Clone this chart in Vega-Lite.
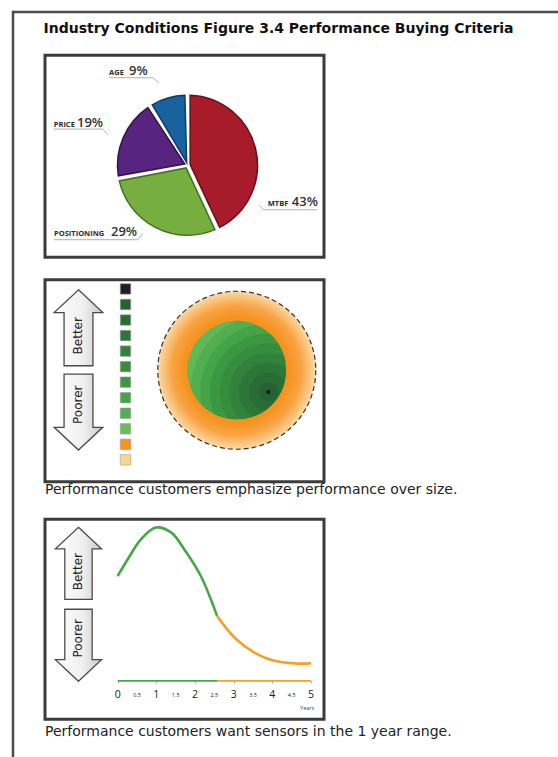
{
  "$schema": "https://vega.github.io/schema/vega-lite/v6.json",
  "background": "#ffffff",
  "padding": {"left": 11, "top": 4, "right": 0, "bottom": 0},
  "config": {"view": {"stroke": null}, "font": "DejaVu Sans"},
  "datasets": {
    "criteria": [
      {"criterion": "MTBF", "pct": 43},
      {"criterion": "Positioning", "pct": 29},
      {"criterion": "Price", "pct": 19},
      {"criterion": "Age", "pct": 9}
    ],
    "labels": [
      {"criterion": "Age", "name": "AGE", "share": "9%", "name_x": -1.121, "share_x": -0.836, "label_y": 1.283},
      {"criterion": "Price", "name": "PRICE", "share": "19%", "name_x": -1.911, "share_x": -1.579, "label_y": 0.553},
      {"criterion": "MTBF", "name": "MTBF", "share": "43%", "name_x": 1.146, "share_x": 1.49, "label_y": -0.586},
      {"criterion": "Positioning", "name": "POSITIONING", "share": "29%", "name_x": -1.907, "share_x": -1.093, "label_y": -1.004}
    ],
    "leaders": [
      {"criterion": "Age", "seq": 1, "lx": -1.121, "ly": 1.25},
      {"criterion": "Age", "seq": 2, "lx": -0.493, "ly": 1.25},
      {"criterion": "Age", "seq": 3, "lx": -0.407, "ly": 1.171},
      {"criterion": "Price", "seq": 1, "lx": -1.911, "ly": 0.517},
      {"criterion": "Price", "seq": 2, "lx": -1.211, "ly": 0.517},
      {"criterion": "Price", "seq": 3, "lx": -1.14, "ly": 0.436},
      {"criterion": "MTBF", "seq": 1, "lx": 1.026, "ly": -0.571},
      {"criterion": "MTBF", "seq": 2, "lx": 1.089, "ly": -0.636},
      {"criterion": "MTBF", "seq": 3, "lx": 1.85, "ly": -0.636},
      {"criterion": "Positioning", "seq": 1, "lx": -1.907, "ly": -1.064},
      {"criterion": "Positioning", "seq": 2, "lx": -0.711, "ly": -1.064},
      {"criterion": "Positioning", "seq": 3, "lx": -0.64, "ly": -0.986}
    ],
    "levels": [
      {"level": 1}, {"level": 2}, {"level": 3}, {"level": 4}, {"level": 5}, {"level": 6},
      {"level": 7}, {"level": 8}, {"level": 9}, {"level": 10}, {"level": 11}, {"level": 12}
    ],
    "cuts": [
      {"cut": "Rough cut", "cx": 0, "cy": 0, "radius": 4},
      {"cut": "Fine cut", "cx": 0, "cy": 0, "radius": 2.5}
    ],
    "ideal": [{"spot": "Ideal", "performance": 1.6, "size": -1.1}],
    "arrows": [
      {"label": "Better", "direction": "up"},
      {"label": "Poorer", "direction": "down"}
    ],
    "curve": [
      {"zone": "Fine cut", "year": 0, "score": 68.4},
      {"zone": "Fine cut", "year": 0.26, "score": 79.3},
      {"zone": "Fine cut", "year": 0.6, "score": 92.3},
      {"zone": "Fine cut", "year": 0.99, "score": 100},
      {"zone": "Fine cut", "year": 1.38, "score": 96.8},
      {"zone": "Fine cut", "year": 1.72, "score": 85.9},
      {"zone": "Fine cut", "year": 2.15, "score": 68.4},
      {"zone": "Fine cut", "year": 2.57, "score": 42.4},
      {"zone": "Rough cut", "year": 2.57, "score": 42.4},
      {"zone": "Rough cut", "year": 3.02, "score": 28.3},
      {"zone": "Rough cut", "year": 3.53, "score": 18.5},
      {"zone": "Rough cut", "year": 4.05, "score": 13.1},
      {"zone": "Rough cut", "year": 4.57, "score": 11.4},
      {"zone": "Rough cut", "year": 5, "score": 11.4}
    ],
    "axisline": [
      {"zone": "Fine cut", "from": 0, "to": 2.57},
      {"zone": "Rough cut", "from": 2.57, "to": 5}
    ],
    "yearticks": [
      {"year": 0, "label": "0", "kind": "whole"},
      {"year": 0.5, "label": "0.5", "kind": "half"},
      {"year": 1, "label": "1", "kind": "whole"},
      {"year": 1.5, "label": "1.5", "kind": "half"},
      {"year": 2, "label": "2", "kind": "whole"},
      {"year": 2.5, "label": "2.5", "kind": "half"},
      {"year": 3, "label": "3", "kind": "whole"},
      {"year": 3.5, "label": "3.5", "kind": "half"},
      {"year": 4, "label": "4", "kind": "whole"},
      {"year": 4.5, "label": "4.5", "kind": "half"},
      {"year": 5, "label": "5", "kind": "whole"}
    ]
  },
  "spacing": 0,
  "bounds": "flush",
  "hconcat": [
    {
      "width": 0.01, "height": 750,
      "view": {"stroke": "#4d4d4d", "strokeWidth": 2.5},
      "data": {"values": [{"k": 1}]},
      "mark": {"type": "text"},
      "encoding": {"text": {"value": ""}}
    },
    {
      "spacing": 42.25,
      "bounds": "flush",
      "vconcat": [
        {
          "width": 544, "height": 0.01,
          "view": {"stroke": "#4d4d4d", "strokeWidth": 2.5},
          "data": {"values": [{"k": 1}]},
          "mark": {"type": "text"},
          "encoding": {"text": {"value": ""}}
        },
        {
          "spacing": 0,
          "bounds": "flush",
          "hconcat": [
            {
              "width": 30.25, "height": 0.01,
              "data": {"values": [{"k": 1}]},
              "mark": {"type": "text"},
              "encoding": {"text": {"value": ""}}
            },
            {
              "title": {"text": "Industry Conditions Figure 3.4 Performance Buying Criteria", "anchor": "start", "font": "DejaVu Sans", "fontSize": 14, "fontWeight": "bold", "color": "#111111", "offset": 18},
              "spacing": 18.5,
              "resolve": {"scale": {"color": "independent", "fill": "independent", "stroke": "independent", "shape": "independent", "size": "independent"}},
              "vconcat": [
                {
                  "width": 279, "height": 202,
                  "view": {"stroke": "#3b3b3b", "strokeWidth": 3},
                  "layer": [
                    {
                      "data": {"name": "criteria"},
                      "mark": {"type": "arc", "outerRadius": 70, "innerRadius": 3, "padAngle": 0.075, "strokeWidth": 1.5},
                      "encoding": {
                        "theta": {"field": "pct", "type": "quantitative", "stack": true},
                        "order": {"field": "pct", "type": "quantitative", "sort": "descending"},
                        "x": {"datum": 0, "type": "quantitative", "scale": {"domain": [-2.0357, 1.95], "nice": false, "zero": false}, "axis": null},
                        "y": {"datum": 0, "type": "quantitative", "scale": {"domain": [-1.3143, 1.5714], "nice": false, "zero": false}, "axis": null},
                        "fill": {"field": "criterion", "type": "nominal", "scale": {"domain": ["MTBF", "Positioning", "Price", "Age"], "range": ["#a81b2a", "#76ae3f", "#57257f", "#17629f"]}, "legend": null},
                        "stroke": {"field": "criterion", "type": "nominal", "scale": {"domain": ["MTBF", "Positioning", "Price", "Age"], "range": ["#6a1019", "#40731f", "#33134f", "#0c3d66"]}, "legend": null}
                      }
                    },
                    {
                      "data": {"name": "leaders"},
                      "mark": {"type": "line", "color": "#9a9a9a", "strokeWidth": 0.8},
                      "encoding": {
                        "x": {"field": "lx", "type": "quantitative", "scale": {"domain": [-2.0357, 1.95], "nice": false, "zero": false}, "axis": null},
                        "y": {"field": "ly", "type": "quantitative", "scale": {"domain": [-1.3143, 1.5714], "nice": false, "zero": false}, "axis": null},
                        "detail": {"field": "criterion", "type": "nominal"},
                        "order": {"field": "seq", "type": "quantitative"}
                      }
                    },
                    {
                      "data": {"name": "labels"},
                      "mark": {"type": "text", "align": "left", "baseline": "alphabetic", "font": "Open Sans", "fontSize": 7.5, "fontWeight": "bold", "color": "#2b2b2b"},
                      "encoding": {
                        "x": {"field": "name_x", "type": "quantitative", "scale": {"domain": [-2.0357, 1.95], "nice": false, "zero": false}, "axis": null},
                        "y": {"field": "label_y", "type": "quantitative", "scale": {"domain": [-1.3143, 1.5714], "nice": false, "zero": false}, "axis": null},
                        "text": {"field": "name"}
                      }
                    },
                    {
                      "data": {"name": "labels"},
                      "mark": {"type": "text", "align": "left", "baseline": "alphabetic", "font": "Open Sans", "fontSize": 13, "fontWeight": 600, "color": "#333333"},
                      "encoding": {
                        "x": {"field": "share_x", "type": "quantitative", "scale": {"domain": [-2.0357, 1.95], "nice": false, "zero": false}, "axis": null},
                        "y": {"field": "label_y", "type": "quantitative", "scale": {"domain": [-1.3143, 1.5714], "nice": false, "zero": false}, "axis": null},
                        "text": {"field": "share"}
                      }
                    }
                  ]
                },
                {
                  "width": 279, "height": 202,
                  "view": {"stroke": "#3b3b3b", "strokeWidth": 3},
                  "title": {"text": "Performance customers emphasize performance over size.", "orient": "bottom", "anchor": "start", "font": "DejaVu Sans", "fontSize": 14, "fontWeight": "normal", "color": "#222222", "baseline": "top", "offset": 1.5},
                  "resolve": {"scale": {"y": "independent"}},
                  "layer": [
                    {
                      "data": {"name": "cuts"},
                      "transform": [{"filter": "datum.cut === 'Rough cut'"}],
                      "mark": {"type": "point", "shape": "circle", "filled": true, "opacity": 1, "stroke": "#333333", "strokeWidth": 1.2, "strokeDash": [5, 3],
                        "fill": {"gradient": "radial", "x1": 0.5, "y1": 0.5, "r1": 0, "x2": 0.5, "y2": 0.5, "r2": 0.5,
                          "stops": [{"offset": 0, "color": "#f6921e"}, {"offset": 0.66, "color": "#f6921e"}, {"offset": 0.82, "color": "#f8a445"}, {"offset": 1, "color": "#fcdaa6"}]}},
                      "encoding": {
                        "x": {"field": "cx", "type": "quantitative", "scale": {"domain": [-9.711, 4.415], "nice": false, "zero": false}, "axis": null},
                        "y": {"field": "cy", "type": "quantitative", "scale": {"domain": [-5.646, 4.582], "nice": false, "zero": false}, "axis": null},
                        "size": {"field": "radius", "type": "quantitative", "scale": {"type": "pow", "exponent": 2, "domain": [0, 4], "range": [0, 24964]}, "legend": null}
                      }
                    },
                    {
                      "data": {"name": "cuts"},
                      "transform": [{"filter": "datum.cut === 'Fine cut'"}],
                      "mark": {"type": "point", "shape": "circle", "filled": true, "opacity": 1, "strokeWidth": 0,
                        "fill": {"gradient": "radial", "x1": 0.82, "y1": 0.72, "r1": 0, "x2": 0.82, "y2": 0.72, "r2": 0.89,
                          "stops": [
                            {"offset": 0, "color": "#246331"}, {"offset": 0.111, "color": "#246331"},
                            {"offset": 0.111, "color": "#286d34"}, {"offset": 0.222, "color": "#286d34"},
                            {"offset": 0.222, "color": "#2c7737"}, {"offset": 0.333, "color": "#2c7737"},
                            {"offset": 0.333, "color": "#31823b"}, {"offset": 0.444, "color": "#31823b"},
                            {"offset": 0.444, "color": "#368d3e"}, {"offset": 0.555, "color": "#368d3e"},
                            {"offset": 0.555, "color": "#3b9842"}, {"offset": 0.666, "color": "#3b9842"},
                            {"offset": 0.666, "color": "#45a447"}, {"offset": 0.777, "color": "#45a447"},
                            {"offset": 0.777, "color": "#52ae4e"}, {"offset": 0.888, "color": "#52ae4e"},
                            {"offset": 0.888, "color": "#60b856"}, {"offset": 1, "color": "#60b856"}
                          ]}},
                      "encoding": {
                        "x": {"field": "cx", "type": "quantitative", "scale": {"domain": [-9.711, 4.415], "nice": false, "zero": false}, "axis": null},
                        "y": {"field": "cy", "type": "quantitative", "scale": {"domain": [-5.646, 4.582], "nice": false, "zero": false}, "axis": null},
                        "size": {"field": "radius", "type": "quantitative", "scale": {"type": "pow", "exponent": 2, "domain": [0, 4], "range": [0, 24964]}, "legend": null}
                      }
                    },
                    {
                      "data": {"name": "ideal"},
                      "mark": {"type": "point", "shape": "circle", "filled": true, "opacity": 1, "fill": "#111111", "size": 16},
                      "encoding": {
                        "x": {"field": "performance", "type": "quantitative", "scale": {"domain": [-9.711, 4.415], "nice": false, "zero": false}, "axis": null},
                        "y": {"field": "size", "type": "quantitative", "scale": {"domain": [-5.646, 4.582], "nice": false, "zero": false}, "axis": null}
                      }
                    },
                    {
                      "data": {"name": "levels"},
                      "mark": {"type": "point", "shape": "square", "filled": true, "opacity": 1, "size": 110, "stroke": "#a0a0a0", "strokeWidth": 0.6},
                      "encoding": {
                        "x": {"datum": -5.635, "type": "quantitative", "scale": {"domain": [-9.711, 4.415], "nice": false, "zero": false}, "axis": null},
                        "y": {"field": "level", "type": "ordinal", "scale": {"type": "point", "domain": [1, 2, 3, 4, 5, 6, 7, 8, 9, 10, 11, 12], "padding": 1.93, "align": 0.296}, "axis": null},
                        "color": {"field": "level", "type": "ordinal", "scale": {"domain": [1, 2, 3, 4, 5, 6, 7, 8, 9, 10, 11, 12], "range": ["#231f20", "#246331", "#286d34", "#2c7737", "#31823b", "#368d3e", "#3b9842", "#45a447", "#52ae4e", "#6abd57", "#f7941d", "#fdd68e"]}, "legend": null}
                      }
                    },
                    {
                      "data": {"name": "arrows"},
                      "mark": {"type": "point", "filled": true, "opacity": 1, "size": 5776, "stroke": "#4a4a4a", "strokeWidth": 1.3,
                        "fill": {"gradient": "linear", "x1": 0, "y1": 0, "x2": 1, "y2": 0, "stops": [{"offset": 0, "color": "#ffffff"}, {"offset": 0.6, "color": "#efefef"}, {"offset": 1, "color": "#c9c9c9"}]}},
                      "encoding": {
                        "x": {"datum": -8.015, "type": "quantitative", "scale": {"domain": [-9.711, 4.415], "nice": false, "zero": false}, "axis": null},
                        "y": {"field": "label", "type": "nominal", "scale": {"type": "point", "domain": ["Better", "Poorer"], "padding": 0.698, "align": 0.408}, "axis": null},
                        "shape": {"field": "direction", "type": "nominal", "scale": {"domain": ["up", "down"], "range": ["M0,-1L0.64,-0.4L0.38,-0.4L0.38,1L-0.38,1L-0.38,-0.4L-0.64,-0.4Z", "M0,1L0.64,0.4L0.38,0.4L0.38,-1L-0.38,-1L-0.38,0.4L-0.64,0.4Z"]}, "legend": null}
                      }
                    },
                    {
                      "data": {"name": "arrows"},
                      "mark": {"type": "text", "angle": 270, "font": "DejaVu Sans", "fontSize": 12, "color": "#222222", "align": "center", "baseline": "middle"},
                      "encoding": {
                        "x": {"datum": -8.04, "type": "quantitative", "scale": {"domain": [-9.711, 4.415], "nice": false, "zero": false}, "axis": null},
                        "y": {"field": "label", "type": "nominal", "scale": {"type": "point", "domain": ["Better", "Poorer"], "padding": 0.964, "align": 0.421}, "axis": null},
                        "text": {"field": "label"}
                      }
                    }
                  ]
                },
                {
                  "width": 279, "height": 200,
                  "view": {"stroke": "#3b3b3b", "strokeWidth": 3},
                  "title": {"text": "Performance customers want sensors in the 1 year range.", "orient": "bottom", "anchor": "start", "font": "DejaVu Sans", "fontSize": 14, "fontWeight": "normal", "color": "#222222", "baseline": "top", "offset": 6},
                  "resolve": {"scale": {"y": "independent"}},
                  "layer": [
                    {
                      "data": {"name": "axisline"},
                      "mark": {"type": "rule", "strokeWidth": 1.6},
                      "encoding": {
                        "x": {"field": "from", "type": "quantitative", "scale": {"domain": [-1.88, 5.336], "nice": false, "zero": false}},
                        "x2": {"field": "to"},
                        "y": {"datum": 0, "type": "quantitative", "scale": {"domain": [-25, 105.4], "nice": false, "zero": false}, "axis": null},
                        "color": {"field": "zone", "type": "nominal", "scale": {"domain": ["Fine cut", "Rough cut"], "range": ["#43a845", "#f2a22a"]}, "legend": null}
                      }
                    },
                    {
                      "data": {"name": "curve"},
                      "mark": {"type": "line", "strokeWidth": 2.6, "interpolate": "catmull-rom"},
                      "encoding": {
                        "x": {"field": "year", "type": "quantitative", "scale": {"domain": [-1.88, 5.336], "nice": false, "zero": false},
                          "axis": {"values": [0, 0.5, 1, 1.5, 2, 2.5, 3, 3.5, 4, 4.5, 5], "domain": false, "grid": false, "ticks": true, "tickSize": 2, "tickWidth": 0.8, "tickColor": "#8a8a8a", "offset": -38.3,
                            "labels": false,
                            "title": "Years", "titleFont": "Open Sans", "titleFontSize": 5.5, "titleFontWeight": "normal", "titleColor": "#444444", "titleAlign": "right", "titleBaseline": "middle", "titleX": 268.7, "titleY": 26.3}},
                        "y": {"field": "score", "type": "quantitative", "scale": {"domain": [-25, 105.4], "nice": false, "zero": false}, "axis": null},
                        "color": {"field": "zone", "type": "nominal", "scale": {"domain": ["Fine cut", "Rough cut"], "range": ["#43a845", "#f2a22a"]}, "legend": null}
                      }
                    },
                    {
                      "data": {"name": "yearticks"},
                      "mark": {"type": "text", "font": "Open Sans", "color": "#222222", "align": "center", "baseline": "middle"},
                      "encoding": {
                        "x": {"field": "year", "type": "quantitative", "scale": {"domain": [-1.88, 5.336], "nice": false, "zero": false}},
                        "y": {"datum": -9, "type": "quantitative", "scale": {"domain": [-25, 105.4], "nice": false, "zero": false}, "axis": null},
                        "text": {"field": "label"},
                        "size": {"field": "kind", "type": "nominal", "scale": {"domain": ["whole", "half"], "range": [10.5, 5.5]}, "legend": null}
                      }
                    },
                    {
                      "data": {"name": "arrows"},
                      "mark": {"type": "point", "filled": true, "opacity": 1, "size": 5184, "stroke": "#4a4a4a", "strokeWidth": 1.3,
                        "fill": {"gradient": "linear", "x1": 0, "y1": 0, "x2": 1, "y2": 0, "stops": [{"offset": 0, "color": "#ffffff"}, {"offset": 0.6, "color": "#efefef"}, {"offset": 1, "color": "#c9c9c9"}]}},
                      "encoding": {
                        "x": {"datum": -1.014, "type": "quantitative", "scale": {"domain": [-1.88, 5.336], "nice": false, "zero": false}},
                        "y": {"field": "label", "type": "nominal", "scale": {"type": "point", "domain": ["Better", "Poorer"], "padding": 0.72, "align": 0.373}, "axis": null},
                        "shape": {"field": "direction", "type": "nominal", "scale": {"domain": ["up", "down"], "range": ["M0,-1L0.64,-0.4L0.38,-0.4L0.38,1L-0.38,1L-0.38,-0.4L-0.64,-0.4Z", "M0,1L0.64,0.4L0.38,0.4L0.38,-1L-0.38,-1L-0.38,0.4L-0.64,0.4Z"]}, "legend": null}
                      }
                    },
                    {
                      "data": {"name": "arrows"},
                      "mark": {"type": "text", "angle": 270, "font": "DejaVu Sans", "fontSize": 12, "color": "#222222", "align": "center", "baseline": "middle"},
                      "encoding": {
                        "x": {"datum": -1.03, "type": "quantitative", "scale": {"domain": [-1.88, 5.336], "nice": false, "zero": false}},
                        "y": {"field": "label", "type": "nominal", "scale": {"type": "point", "domain": ["Better", "Poorer"], "padding": 1.004, "align": 0.393}, "axis": null},
                        "text": {"field": "label"}
                      }
                    }
                  ]
                }
              ]
            }
          ]
        }
      ]
    }
  ]
}
